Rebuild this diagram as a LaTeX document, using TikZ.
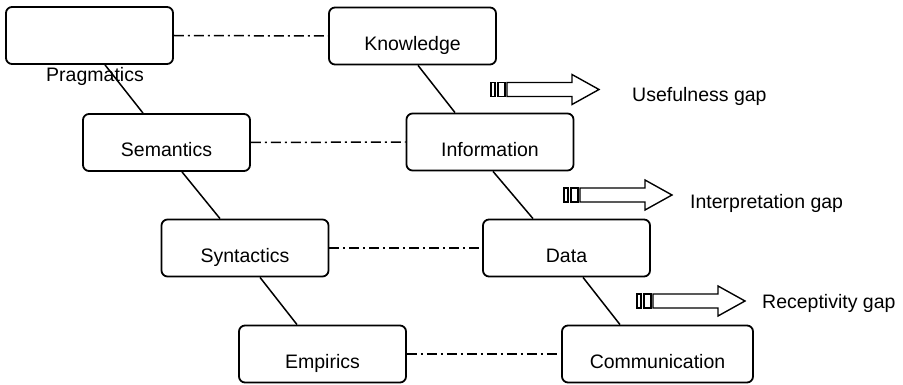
\documentclass[tikz,border=0pt]{standalone}
\usepackage{fontspec}
\setmainfont{Liberation Sans}
\begin{document}
\begin{tikzpicture}[x=1pt,y=-1pt,
  font=\fontsize{19.5}{23}\selectfont,
  box/.style={draw, line width=1.8pt, rounded corners=6pt, minimum width=167pt, minimum height=57pt,
              inner sep=0pt, text height=29pt, text depth=0pt},
  link/.style={line width=1.5pt},
  dashdot/.style={line width=1.5pt, dash pattern=on 10pt off 4pt on 2pt off 4pt},
  gaptext/.style={anchor=base west, inner sep=0pt},
  gaparrow/.pic={
    \draw[line width=1.4pt] (0,-7) rectangle (4,7);
    \draw[line width=1.4pt] (7,-7) rectangle (14,7);
    \draw[line width=1.4pt, line join=miter] (16,-7) -- (81,-7) -- (81,-15) -- (108,0) -- (81,15) -- (81,7) -- (16,7) -- cycle;
  }]
\useasboundingbox (0,0) rectangle (903,385);

% left column
\node[box] (prag) at (89.5,35.5) {};
\node[box] (sem)  at (166.5,142.5) {Semantics};
\node[box] (syn)  at (245,248) {Syntactics};
\node[box] (emp)  at (322.5,354) {Empirics};
% right column
\node[box] (know) at (412.5,36) {Knowledge};
\node[box] (info) at (490,142) {Information};
\node[box] (data) at (566.5,248) {Data};
\node[box, minimum width=191pt] (comm) at (657.5,354) {Communication};

\node[anchor=base, inner sep=0pt] (pragtext) at (95,82) {Pragmatics};

% slanted connectors
\draw[link] ([xshift=15.5pt]prag.south) -- ([xshift=-23.5pt]sem.north);
\draw[link] ([xshift=15.5pt]sem.south) -- ([xshift=-25pt]syn.north);
\draw[link] ([xshift=15pt]syn.south) -- ([xshift=-25.5pt]emp.north);
\draw[link] ([xshift=5.5pt]know.south) -- ([xshift=-35pt]info.north);
\draw[link] ([xshift=3pt]info.south) -- ([xshift=-33.5pt]data.north);
\draw[link] ([xshift=16.5pt]data.south) -- ([xshift=-37.5pt]comm.north);

% dash-dot links
\draw[dashdot] (prag.east) -- (know.west);
\draw[dashdot] (sem.east) -- (info.west);
\draw[dashdot] (syn.east) -- (data.west);
\draw[dashdot] (emp.east) -- (comm.west);

% gap arrows
\pic at (491,89.5) {gaparrow};
\pic at (564,195) {gaparrow};
\pic at (637,301) {gaparrow};

\node[gaptext] (useful) at (632,102) {Usefulness gap};
\node[gaptext] (interp) at (690,208) {Interpretation gap};
\node[gaptext] (recept) at (762,308) {Receptivity gap};
\end{tikzpicture}
\end{document}
